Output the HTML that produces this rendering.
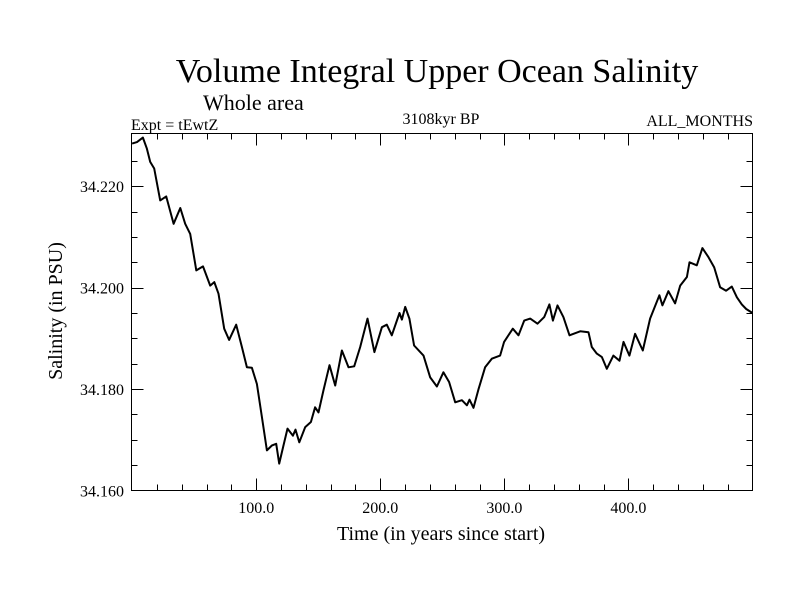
<!DOCTYPE html>
<html><head><meta charset="utf-8"><style>
html,body{margin:0;padding:0;background:#fff;}
svg{display:block;font-family:"Liberation Serif",serif;}
</style></head><body>
<svg id="chart" width="800" height="600" viewBox="0 0 800 600">
<rect width="800" height="600" fill="#fff"/>
<text x="437" y="82" font-size="34" text-anchor="middle">Volume Integral Upper Ocean Salinity</text>
<text x="203" y="110" font-size="22">Whole area</text>
<text x="131" y="130" font-size="16">Expt = tEwtZ</text>
<text x="441" y="124" font-size="16" text-anchor="middle">3108kyr BP</text>
<text x="753" y="126" font-size="16" text-anchor="end">ALL_MONTHS</text>
<text x="441" y="540" font-size="20" text-anchor="middle">Time (in years since start)</text>
<text transform="translate(62,311) rotate(-90)" font-size="20" text-anchor="middle">Salinity (in PSU)</text>
<g id="axes"></g>
<path id="line" fill="none" stroke="#000" stroke-width="2" stroke-linejoin="round"/>
<rect x="131.5" y="133.5" width="621" height="357" fill="none" stroke="#000" stroke-width="1"/>
</svg>
<script>
const years=[0,3.9,8.7,11.9,14.6,17.8,22.6,27.5,33.4,38.8,42.8,46.8,51.7,57.1,62.9,66.2,69.6,74.2,78.2,83.9,88.5,92.5,96.5,100.6,104.6,108.6,112.7,116.1,118.5,122.0,125.2,129.6,131.7,134.7,139.5,144.1,147.5,150.2,154.2,159.1,163.7,169.1,174.4,179.0,183.8,189.7,195.3,201.3,205.3,209.3,215.5,217.4,220.1,223.5,227.3,234.8,240.2,245.6,250.9,255.5,260.4,265.8,269.8,271.9,275.1,279.1,284.5,289.9,296.6,299.8,306.8,311.4,316.0,320.8,326.7,332.1,336.3,339.1,342.8,347.6,352.5,361.1,367.8,370.5,374.5,378.6,382.6,387.9,392.8,396.0,400.8,405.4,411.6,417.5,425.0,427.4,432.2,437.6,441.7,447.1,449.2,455.1,459.6,464.5,469.1,473.9,478.7,483.3,487.4,491.4,494.9,500];
const salinity=[34.2284,34.2287,34.2296,34.2274,34.2248,34.2235,34.2172,34.2180,34.2126,34.2157,34.2126,34.2106,34.2034,34.2042,34.2004,34.2011,34.1988,34.1919,34.1897,34.1927,34.1883,34.1843,34.1842,34.1810,34.1745,34.1679,34.1689,34.1692,34.1653,34.1689,34.1722,34.1708,34.1720,34.1695,34.1725,34.1735,34.1764,34.1754,34.1797,34.1847,34.1807,34.1876,34.1843,34.1845,34.1883,34.1939,34.1873,34.1922,34.1927,34.1906,34.1950,34.1937,34.1962,34.1939,34.1886,34.1866,34.1823,34.1805,34.1833,34.1814,34.1774,34.1778,34.1768,34.1779,34.1763,34.1799,34.1843,34.1860,34.1866,34.1893,34.1919,34.1906,34.1935,34.1939,34.1929,34.1942,34.1967,34.1935,34.1965,34.1942,34.1906,34.1914,34.1912,34.1883,34.1870,34.1863,34.1840,34.1866,34.1856,34.1893,34.1866,34.1909,34.1876,34.1939,34.1985,34.1965,34.1993,34.1969,34.2004,34.2021,34.2050,34.2044,34.2078,34.2060,34.2040,34.2001,34.1994,34.2002,34.1981,34.1967,34.1958,34.1950];
const xTickValues=[100,200,300,400];
const xTickLabels=["100.0","200.0","300.0","400.0"];
const yTickValues=[34.16,34.18,34.2,34.22];
const yTickLabels=["34.160","34.180","34.200","34.220"];

const X0=131.5,X1=752.5,Y0=490.5,Y1=133.5;
const xMin=-0.5,xMax=500,yMin=34.16,yMax=34.2304;
function sx(v){return X0+(v-xMin)/(xMax-xMin)*(X1-X0);}
function sy(v){return Y0-(v-yMin)/(yMax-yMin)*(Y0-Y1);}
const NS="http://www.w3.org/2000/svg";
const axes=document.getElementById('axes');
function ln(x1,y1,x2,y2,name){
  const l=document.createElementNS(NS,'line');
  l.setAttribute('x1',x1);l.setAttribute('y1',y1);l.setAttribute('x2',x2);l.setAttribute('y2',y2);
  l.setAttribute('stroke','#000');l.setAttribute('stroke-width','1');
  
  
  axes.appendChild(l);
}
function tx(x,y,s,anchor,name){
  const t=document.createElementNS(NS,'text');
  t.setAttribute('x',x);t.setAttribute('y',y);t.setAttribute('font-size','16');t.setAttribute('text-anchor',anchor);
  t.textContent=s;
  
  
  axes.appendChild(t);
}
// minor x ticks every 20
for(let v=20;v<500;v+=20){
  const x=Math.round(sx(v))+0.5;
  const major=v%100===0;
  const len=major?12:6;
  ln(x,Y0,x,Y0-len,'x-tick');
  ln(x,Y1,x,Y1+len,'x-tick-top');
}
xTickValues.forEach((v,i)=>{tx(sx(v),513,xTickLabels[i],'middle','x-tick-label');});
// y ticks every 0.005
for(let k=1;k<14;k++){
  const v=34.16+k*0.005;
  const y=Math.round(sy(v))+0.5;
  const major=k%4===0;
  const len=major?12:6;
  ln(X0,y,X0+len,y,'y-tick');
  ln(X1,y,X1-len,y,'y-tick-right');
}
yTickValues.forEach((v,i)=>{tx(124,sy(v)+6,yTickLabels[i],'end','y-tick-label');});
let d='';
years.forEach((yr,i)=>{d+=(i?'L':'M')+sx(yr).toFixed(1)+' '+sy(salinity[i]).toFixed(1);});
document.getElementById('line').setAttribute('d',d);
</script>
</body></html>
